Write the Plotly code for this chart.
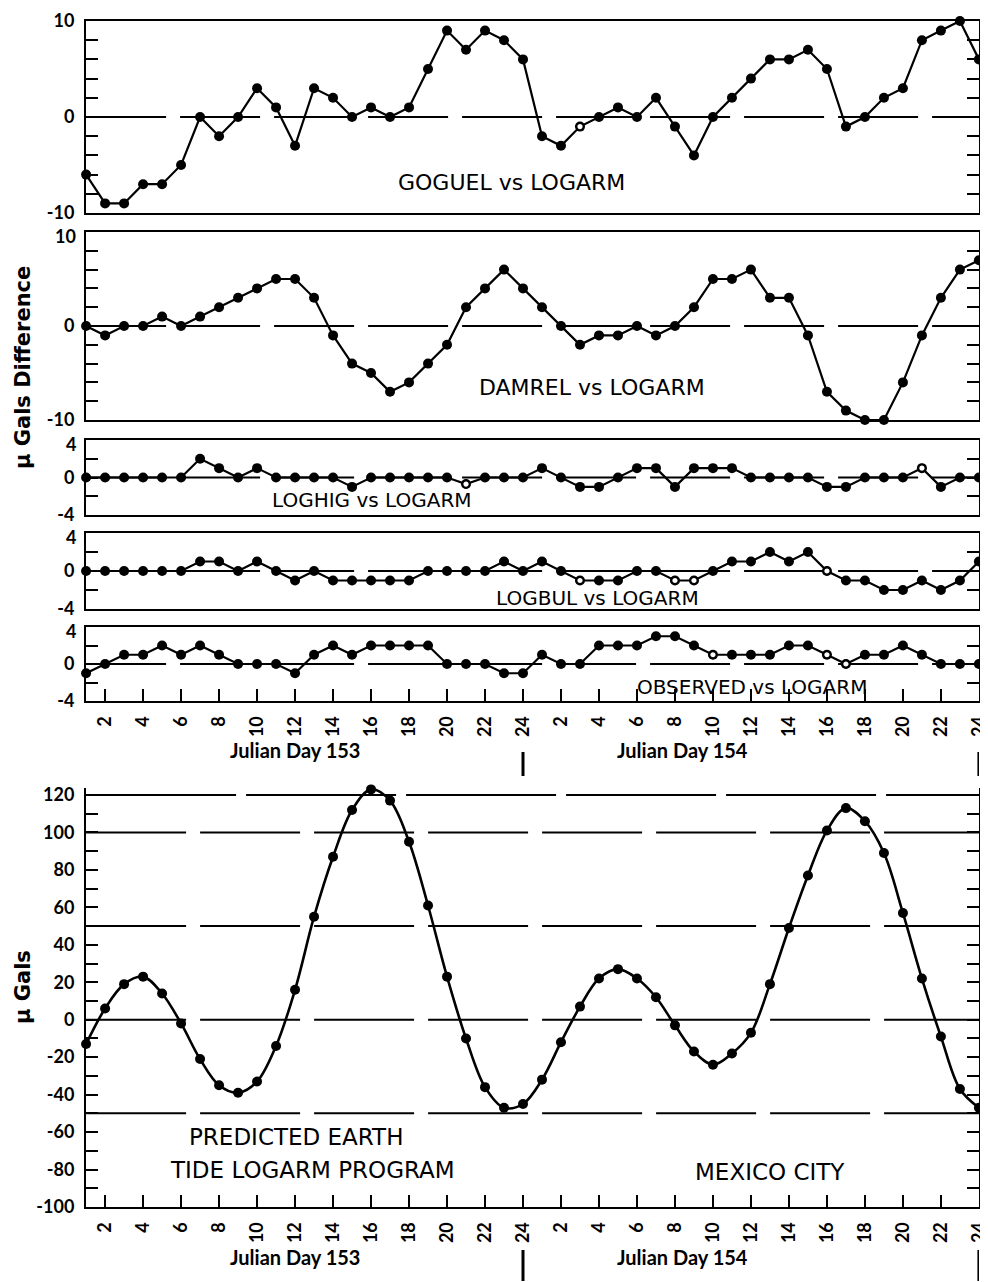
import plotly.graph_objects as go

OFF = 8  # the page body adds an 8px margin around the figure
W, H = 988 - OFF, 1282 - OFF  # figure size so the page stays inside the window

hours = list(range(1, 49))
tick_vals = list(range(2, 49, 2))
tick_text = [str(h) for h in range(2, 25, 2)] * 2

goguel = [-6, -9, -9, -7, -7, -5, 0, -2, 0, 3, 1, -3, 3, 2, 0, 1, 0, 1, 5, 9, 7, 9, 8, 6,
          -2, -3, -1, 0, 1, 0, 2, -1, -4, 0, 2, 4, 6, 6, 7, 5, -1, 0, 2, 3, 8, 9, 10, 6]
damrel = [0, -1, 0, 0, 1, 0, 1, 2, 3, 4, 5, 5, 3, -1, -4, -5, -7, -6, -4, -2, 2, 4, 6, 4,
          2, 0, -2, -1, -1, 0, -1, 0, 2, 5, 5, 6, 3, 3, -1, -7, -9, -10, -10, -6, -1, 3, 6, 7]
loghig = [0, 0, 0, 0, 0, 0, 2, 1, 0, 1, 0, 0, 0, 0, -1, 0, 0, 0, 0, 0, -0.7, 0, 0, 0,
          1, 0, -1, -1, 0, 1, 1, -1, 1, 1, 1, 0, 0, 0, 0, -1, -1, 0, 0, 0, 1, -1, 0, 0]
logbul = [0, 0, 0, 0, 0, 0, 1, 1, 0, 1, 0, -1, 0, -1, -1, -1, -1, -1, 0, 0, 0, 0, 1, 0,
          1, 0, -1, -1, -1, 0, 0, -1, -1, 0, 1, 1, 2, 1, 2, 0, -1, -1, -2, -2, -1, -2, -1, 1]
observed = [-1, 0, 1, 1, 2, 1, 2, 1, 0, 0, 0, -1, 1, 2, 1, 2, 2, 2, 2, 0, 0, 0, -1, -1,
            1, 0, 0, 2, 2, 2, 3, 3, 2, 1, 1, 1, 1, 2, 2, 1, 0, 1, 1, 2, 1, 0, 0, 0]
predicted = [-13, 6, 19, 23, 14, -2, -21, -35, -39, -33, -14, 16, 55, 87, 112, 123, 117, 95,
             61, 23, -10, -36, -47, -45, -32, -12, 7, 22, 27, 22, 12, -3, -17, -24, -18, -7,
             19, 49, 77, 101, 113, 106, 89, 57, 22, -9, -37, -47]

# hours plotted with hollow markers in the original (style only)
open_goguel = [27]
open_damrel = []
open_loghig = [21, 45]
open_logbul = [27, 32, 33, 40]
open_observed = [34, 40, 41]

diff_ticks = [-10, 0, 10]
small_ticks = [-4, 0, 4]
tide_ticks = list(range(-100, 121, 20))

diff_labels = ["GOGUEL vs LOGARM", "DAMREL vs LOGARM", "LOGHIG vs LOGARM",
               "LOGBUL vs LOGARM", "OBSERVED vs LOGARM"]
bottom_labels = ["PREDICTED EARTH", "TIDE LOGARM PROGRAM", "MEXICO CITY"]
day_labels = ["Julian Day 153", "Julian Day 154"]
y_titles = ["\u03bc Gals Difference", "\u03bc Gals"]

FONT = "DejaVu Sans"
TFONT = "Lato"
X0, X1 = 86, 979
TIDE_TOP = 124  # headroom so the tide peak above 120 is not clipped


def px_y(p):
    return 1 - (p - OFF) / H


def px_x(p):
    return (p - OFF) / W


def fmt(v):
    return str(v)  # ASCII hyphen for negatives, as in the original


fig = go.Figure()

panels = [
    dict(data=goguel, opn=open_goguel, top=21, bot=213, rng=[-10, 10], tv=diff_ticks,
         label=(512, 183)),
    dict(data=damrel, opn=open_damrel, top=232, bot=420, rng=[-10, 10], tv=diff_ticks,
         label=(592, 388)),
    dict(data=loghig, opn=open_loghig, top=440, bot=515, rng=[-4, 4], tv=small_ticks,
         label=(372, 500)),
    dict(data=logbul, opn=open_logbul, top=533, bot=609, rng=[-4, 4], tv=small_ticks,
         label=(597, 598)),
    dict(data=observed, opn=open_observed, top=627, bot=701, rng=[-4, 4], tv=small_ticks,
         label=(752, 687)),
]

layout = dict(width=W, height=H, autosize=False,
              margin=dict(l=0, r=0, t=0, b=0, pad=0),
              paper_bgcolor="white", plot_bgcolor="white",
              showlegend=False, shapes=[], annotations=[])

axis_common = dict(showline=True, linecolor="black", linewidth=2, showgrid=False,
                   zeroline=False, automargin=False)
xrange_ = [0.995, 48.005]
tickfont_x = dict(family=TFONT, size=18, color="black", weight="bold")
tickfont_y = dict(family=TFONT, size=18, color="black", weight="bold")

for i, p in enumerate(panels):
    n = i + 1
    xa = "x" if n == 1 else f"x{n}"
    ya = "y" if n == 1 else f"y{n}"
    fig.add_trace(go.Scatter(x=hours, y=p["data"], mode="lines+markers",
                             line=dict(color="black", width=2.2),
                             marker=dict(color="#000000", size=10, opacity=1,
                                         line=dict(width=0)),
                             cliponaxis=False, xaxis=xa, yaxis=ya))
    if p["opn"]:
        fig.add_trace(go.Scatter(x=p["opn"], y=[p["data"][h - 1] for h in p["opn"]],
                                 mode="markers",
                                 marker=dict(color="#ffffff", size=7, opacity=1,
                                             line=dict(color="#000000", width=1.8)),
                                 cliponaxis=False, xaxis=xa, yaxis=ya))
    last = (n == 5)
    layout[f"xaxis{'' if n == 1 else n}"] = dict(
        axis_common, domain=[px_x(X0), px_x(X1)], range=xrange_, mirror=True,
        anchor=ya,
        ticks="inside" if last else "", ticklen=12, tickwidth=2, tickcolor="black",
        tickvals=tick_vals, ticktext=tick_text, showticklabels=last, tickangle=-90,
        ticklabeloverflow="allow", ticklabelstandoff=6, tickfont=tickfont_x)
    # top label of stacked panels is written slightly below its tick (as in the original)
    labelled = p["tv"] if n == 1 else p["tv"][:-1]
    layout[f"yaxis{'' if n == 1 else n}"] = dict(
        axis_common, domain=[px_y(p["bot"]), px_y(p["top"])], range=p["rng"],
        mirror="ticks", anchor=xa, tickvals=labelled, ticktext=[fmt(v) for v in labelled],
        ticks="inside", ticklen=12, tickwidth=2, tickcolor="black",
        minor=dict(dtick=2, ticks="inside", ticklen=12, tickwidth=2, tickcolor="black"),
        ticklabelstandoff=6, tickfont=tickfont_y)
    if n > 1:
        top_v = p["tv"][-1]
        layout["annotations"].append(dict(
            text=fmt(top_v), xref="paper", yref=ya, x=px_x(X0 - 8), y=top_v, yshift=-4,
            xanchor="right", yanchor="middle", showarrow=False, font=tickfont_y))
    layout["shapes"].append(dict(type="line", xref=xa, yref=ya, x0=1, x1=48, y0=0, y1=0,
                                 layer="below",
                                 line=dict(color="black", width=2, dash="80px,14px")))
    layout["annotations"].append(dict(
        text=diff_labels[i], xref="paper", yref="paper", xanchor="center",
        yanchor="middle", x=px_x(p["label"][0]), y=px_y(p["label"][1]), showarrow=False,
        font=dict(family=FONT, size=22 if n <= 2 else 20, color="black")))

# bottom panel: 120 sits at pixel 795, -100 at 1207
scale = (1207 - 795) / 220.0
top_px = 795 - (TIDE_TOP - 120) * scale
fig.add_trace(go.Scatter(x=hours, y=predicted, mode="lines+markers",
                         line=dict(color="black", width=2.6, shape="spline", smoothing=1),
                         marker=dict(color="#000000", size=10, opacity=1),
                         cliponaxis=False, xaxis="x6", yaxis="y6"))
layout["xaxis6"] = dict(
    axis_common, domain=[px_x(X0), px_x(X1)], range=xrange_, mirror=False, anchor="y6",
    ticks="inside", ticklen=12, tickwidth=2, tickcolor="black",
    tickvals=tick_vals, ticktext=tick_text, tickangle=-90,
    ticklabeloverflow="allow", ticklabelstandoff=6, tickfont=tickfont_x)
layout["yaxis6"] = dict(
    axis_common, domain=[px_y(1207), px_y(top_px)], range=[-100, TIDE_TOP],
    mirror="ticks", anchor="x6", tickvals=tide_ticks, ticktext=[fmt(v) for v in tide_ticks],
    ticks="inside", ticklen=12, tickwidth=2, tickcolor="black",
    minor=dict(dtick=10, ticks="inside", ticklen=12, tickwidth=2, tickcolor="black"),
    ticklabelstandoff=6, tickfont=tickfont_y)
layout["shapes"].append(dict(type="line", xref="x6", yref="y6", x0=1, x1=48,
                             y0=120, y1=120, layer="below",
                             line=dict(color="black", width=2, dash="150px,10px")))
for yv in [100, 50, 0, -50]:
    layout["shapes"].append(dict(type="line", xref="x6", yref="y6", x0=1, x1=48,
                                 y0=yv, y1=yv, layer="below",
                                 line=dict(color="black", width=2, dash="100px,14px")))

for txt, (xx, yy) in zip(bottom_labels, [(296, 1137), (312, 1170), (770, 1172)]):
    layout["annotations"].append(dict(
        text=txt, xref="paper", yref="paper", x=px_x(xx), y=px_y(yy),
        xanchor="center", yanchor="middle", showarrow=False,
        font=dict(family=FONT, size=23, color="black")))

# Julian day labels and day-boundary bars
for ylab, ybar in [(750, (752, 776)), (1257, (1250, 1281))]:
    for txt, xx in zip(day_labels, [295, 682]):
        layout["annotations"].append(dict(
            text=txt, xref="paper", yref="paper", x=px_x(xx), y=px_y(ylab),
            xanchor="center", yanchor="middle", showarrow=False,
            font=dict(family=TFONT, size=20, color="black", weight="bold")))
    for xv in [24, 48]:
        layout["shapes"].append(dict(type="line", xref="x6", yref="paper", x0=xv, x1=xv,
                                     y0=px_y(ybar[1]), y1=px_y(ybar[0]),
                                     line=dict(color="black", width=3)))

for txt, yy in zip(y_titles, [368, 987]):
    layout["annotations"].append(dict(
        text=txt, xref="paper", yref="paper", x=px_x(23), y=px_y(yy),
        xanchor="center", yanchor="middle", textangle=-90, showarrow=False,
        font=dict(family=FONT, size=21, color="black", weight="bold")))

fig.update_layout(**layout)
fig.write_html("out.html")
